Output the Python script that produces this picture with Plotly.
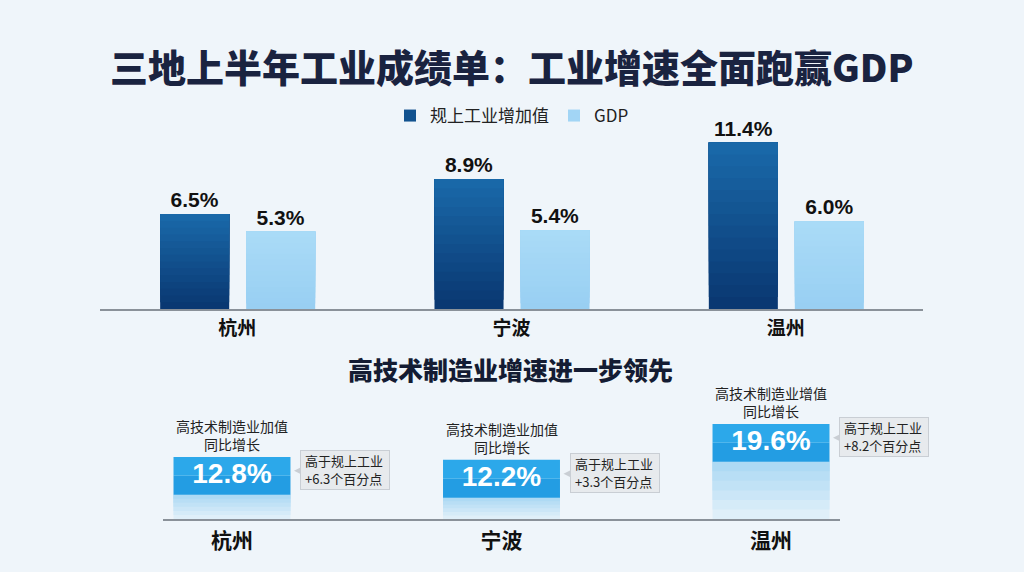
import plotly.graph_objects as go

# ---------------- data ----------------
cities = ["杭州", "宁波", "温州"]
series_names = ["规上工业增加值", "GDP"]
industry_growth = [6.5, 8.9, 11.4]     # 规上工业增加值 同比增速 %
gdp_growth = [5.3, 5.4, 6.0]           # GDP 同比增速 %
hitech_growth = [12.8, 12.2, 19.6]     # 高技术制造业增加值 同比增长 %
hitech_lead = [6.3, 3.3, 8.2]          # 高于规上工业 百分点
hitech_desc = ["高技术制造业加值", "高技术制造业加值", "高技术制造业增值"]
title_text = "三地上半年工业成绩单：工业增速全面跑赢GDP"
subtitle_text = "高技术制造业增速进一步领先"

# ---------------- layout helpers ----------------
W, H = 1024, 572
def fx(p):
    return p / W
def fy(p):
    return 1 - p / H

CJK = "Noto Sans CJK SC"
NUM = "Liberation Sans, Noto Sans CJK SC"

def lerp(c1, c2, t):
    return "rgb(%d,%d,%d)" % tuple(round(a + (b - a) * t) for a, b in zip(c1, c2))

fig = go.Figure()

# ---------------- top chart: grouped bars with vertical gradient ----------------
N = 14
dark_bottom, dark_top = (9, 54, 112), (26, 106, 170)
light_bottom, light_top = (152, 207, 242), (170, 219, 247)
bar_w = 0.2516
offsets = [-0.2807, 0.0328]
series = [industry_growth, gdp_growth]
grads = [(dark_bottom, dark_top), (light_bottom, light_top)]
for s, vals in enumerate(series):
    for k in range(N):
        top_seg = (k == N - 1)
        # each layer runs from its start fraction up to the bar's end; later layers cover earlier ones
        fig.add_trace(go.Bar(
            x=cities,
            y=[v * (N - k) / N for v in vals],
            base=[v * k / N for v in vals],
            width=[bar_w] * len(cities),
            offset=[offsets[s]] * len(cities),
            marker=dict(color=lerp(grads[s][0], grads[s][1], (k + 0.5) / N), line=dict(width=0)),
            name=series_names[s],
            legendgroup=series_names[s],
            showlegend=(k == N // 2),
            text=[f"{v:.1f}%" for v in vals] if top_seg else None,
            textposition="outside" if top_seg else "none",
            textfont=dict(family=NUM, size=21, color="#111111", weight="bold"),
            constraintext="none",
            cliponaxis=False,
            hoverinfo="skip",
            xaxis="x", yaxis="y",
        ))

# ---------------- bottom chart: hi-tech boxes ----------------
S = 7.8   # solid box height (axis units)
M = 6
for k in range(M):
    a = 0.05 + 0.30 * (k + 0.5) / M
    fig.add_trace(go.Bar(
        x=cities,
        y=[(v - S) * (M - k) / M for v in hitech_growth],
        base=[(v - S) * k / M for v in hitech_growth],
        width=[0.434] * len(cities),
        marker=dict(color=lerp((238, 245, 250), (40, 162, 232), a), line=dict(width=0)),
        showlegend=False, hoverinfo="skip",
        xaxis="x2", yaxis="y2",
    ))
fig.add_trace(go.Bar(
    x=cities,
    y=[S * 0.5] * len(cities),
    base=[v - S for v in hitech_growth],
    width=[0.434] * len(cities),
    marker=dict(color="#239de3", line=dict(width=0)),
    showlegend=False, hoverinfo="skip",
    xaxis="x2", yaxis="y2",
))
fig.add_trace(go.Bar(
    x=cities,
    y=[S * 0.5] * len(cities),
    base=[v - S * 0.5 for v in hitech_growth],
    width=[0.434] * len(cities),
    marker=dict(color="#2ca8ea", line=dict(width=0)),
    showlegend=False, hoverinfo="skip",
    xaxis="x2", yaxis="y2",
))
fig.add_trace(go.Scatter(
    x=cities,
    y=[v - S / 2 for v in hitech_growth],
    mode="text",
    text=[f"{v:.1f}%" for v in hitech_growth],
    textposition="middle center",
    textfont=dict(family=NUM, size=28, color="white", weight="bold"),
    showlegend=False, hoverinfo="skip", cliponaxis=False,
    xaxis="x2", yaxis="y2",
))

annotations = [
    dict(text=title_text, x=fx(512), y=fy(65), xref="paper", yref="paper",
         showarrow=False, xanchor="center", yanchor="middle",
         font=dict(family=CJK, size=38, color="#1a2340", weight=900)),
    dict(text=subtitle_text, x=fx(510), y=fy(369), xref="paper", yref="paper",
         showarrow=False, xanchor="center", yanchor="middle",
         font=dict(family=CJK, size=25, color="#141c33", weight=900)),
]
for c, v, d in zip(cities, hitech_growth, hitech_desc):
    annotations.append(dict(
        x=c, y=v, xref="x2", yref="y2",
        text=f"{d}<br>同比增长",
        showarrow=False, xanchor="center", yanchor="bottom", yshift=1,
        font=dict(family=CJK, size=14, color="#222222"),
    ))
# callout bubbles: pointer, box, and two text lines
for c, v in zip(cities, hitech_growth):
    annotations.append(dict(
        x=c, y=v - S / 2, xref="x2", yref="y2", text="",
        showarrow=True, arrowhead=2, arrowsize=1.4, arrowwidth=2.5,
        arrowcolor="#c9ced4", ax=16, ay=0, xshift=62, yshift=5,
    ))
    annotations.append(dict(
        x=c, y=v - S / 2, xref="x2", yref="y2", text="",
        showarrow=False, xanchor="left", yanchor="middle",
        width=88, height=38, xshift=68, yshift=6,
        bgcolor="#e7eaed", bordercolor="#c9ced4", borderwidth=1, borderpad=0,
    ))
for c, v, d in zip(cities, hitech_growth, hitech_lead):
    for line, dy in (("高于规上工业", 15), (f"+{d:.1f}个百分点", -3)):
        annotations.append(dict(
            x=c, y=v - S / 2, xref="x2", yref="y2", text=line,
            showarrow=False, xanchor="left", yanchor="middle",
            xshift=71, yshift=dy,
            font=dict(family=CJK, size=13, color="#222222"),
        ))

axis_common = dict(showgrid=False, zeroline=False, ticks="", showline=True,
                   linecolor="#8a9199", linewidth=1.5, fixedrange=True)

fig.update_layout(
    width=W, height=H,
    margin=dict(l=0, r=0, t=0, b=0),
    paper_bgcolor="#eff5fa",
    plot_bgcolor="rgba(0,0,0,0)",
    barmode="overlay",
    showlegend=True,
    legend=dict(orientation="h", x=fx(512), xanchor="center", y=fy(116), yanchor="middle",
                font=dict(family=CJK, size=17, color="#222222"),
                bgcolor="rgba(0,0,0,0)", itemclick=False, itemdoubleclick=False),
    xaxis=dict(domain=[fx(100), fx(923)], range=[-0.5, 2.5], anchor="y",
               tickfont=dict(family=CJK, size=19, color="#111111", weight="bold"),
               ticklabelstandoff=1, **axis_common),
    yaxis=dict(domain=[fy(309), fy(309 - 12 * 14.6)], range=[0, 12], visible=False,
               anchor="x", fixedrange=True),
    xaxis2=dict(domain=[fx(163), fx(840)], range=[-0.256, 2.256], anchor="y2",
                tickfont=dict(family=CJK, size=21, color="#111111", weight="bold"),
                ticklabelstandoff=2, **axis_common),
    yaxis2=dict(domain=[fy(519), fy(519 - 22 * 4.85)], range=[0, 22], visible=False,
                anchor="x2", fixedrange=True),
    annotations=annotations,
)

fig.write_html("out.html", config={"displayModeBar": False},
               post_script="document.body.style.margin='0';document.body.style.background='#eff5fa';")
